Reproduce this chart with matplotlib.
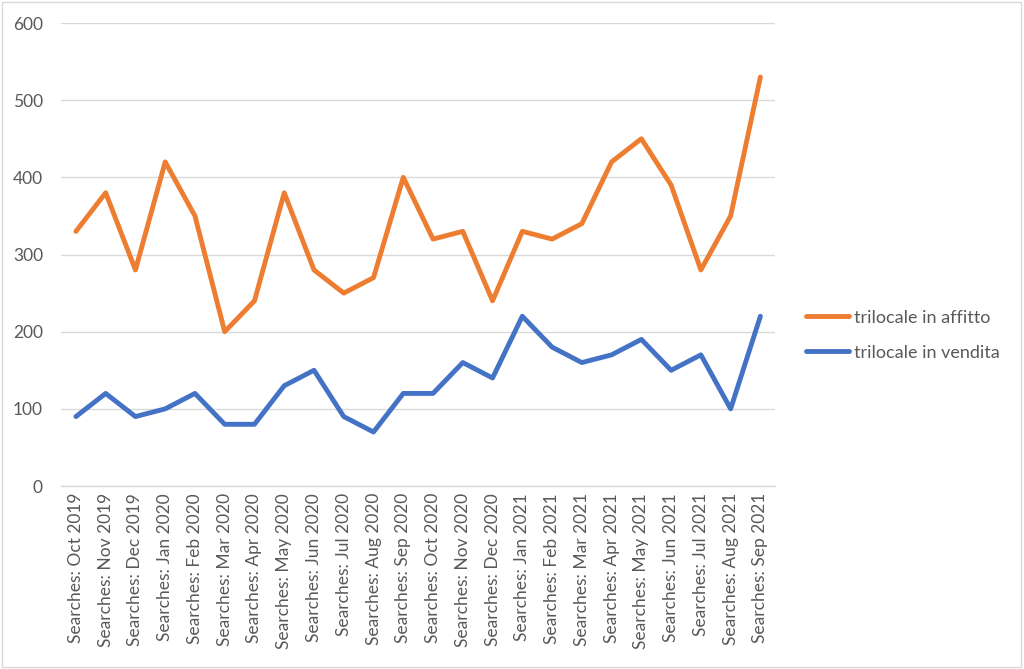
import matplotlib
matplotlib.use("Agg")
import matplotlib.pyplot as plt
from matplotlib.patches import Rectangle

months = ["Oct 2019", "Nov 2019", "Dec 2019", "Jan 2020", "Feb 2020", "Mar 2020",
          "Apr 2020", "May 2020", "Jun 2020", "Jul 2020", "Aug 2020", "Sep 2020",
          "Oct 2020", "Nov 2020", "Dec 2020", "Jan 2021", "Feb 2021", "Mar 2021",
          "Apr 2021", "May 2021", "Jun 2021", "Jul 2021", "Aug 2021", "Sep 2021"]
categories = ["Searches: " + m for m in months]
affitto = [330, 380, 280, 420, 350, 200, 240, 380, 280, 250, 270, 400,
           320, 330, 240, 330, 320, 340, 420, 450, 390, 280, 350, 530]
vendita = [90, 120, 90, 100, 120, 80, 80, 130, 150, 90, 70, 120,
           120, 160, 140, 220, 180, 160, 170, 190, 150, 170, 100, 220]
yticks = [0, 100, 200, 300, 400, 500, 600]

plt.rcParams['font.family'] = ['Lato', 'DejaVu Sans']
fig = plt.figure(figsize=(10.24, 6.69), dpi=100)
ax = fig.add_axes([0.0596, 0.2735, 0.6975, 0.6921])

x = list(range(len(categories)))
ax.plot(x, affitto, color='#ED7D31', lw=3.5, solid_joinstyle='round', solid_capstyle='round',
        label='trilocale in affitto', zorder=3)
ax.plot(x, vendita, color='#4472C4', lw=3.5, solid_joinstyle='round', solid_capstyle='round',
        label='trilocale in vendita', zorder=3)

ax.set_xlim(-0.5, len(categories) - 0.5)
ax.set_ylim(0, 600)
ax.set_yticks(yticks)
ax.set_xticks(x)
ax.set_xticklabels(categories, rotation=90, fontsize=12.5, color='#595959')
ax.tick_params(axis='y', labelsize=12.5, labelcolor='#595959', length=0, pad=13)
ax.tick_params(axis='x', length=0, pad=5)
ax.grid(axis='y', color='#D9D9D9', lw=1.0)
ax.set_axisbelow(True)
for s in ['top', 'right', 'left']:
    ax.spines[s].set_visible(False)
ax.spines['bottom'].set_color('#D9D9D9')
ax.spines['bottom'].set_linewidth(1.0)

leg = fig.legend(loc='center left', bbox_to_anchor=(0.771, 0.499), frameon=False,
                 fontsize=13, handlelength=2.4, handletextpad=0.25, labelspacing=1.05,
                 labelcolor='#595959')

fig.patches.append(Rectangle((0.002, 0.003), 0.995, 0.994, transform=fig.transFigure,
                             fill=False, edgecolor='#D9D9D9', lw=1.0))
fig.savefig('out.png', dpi=100)
